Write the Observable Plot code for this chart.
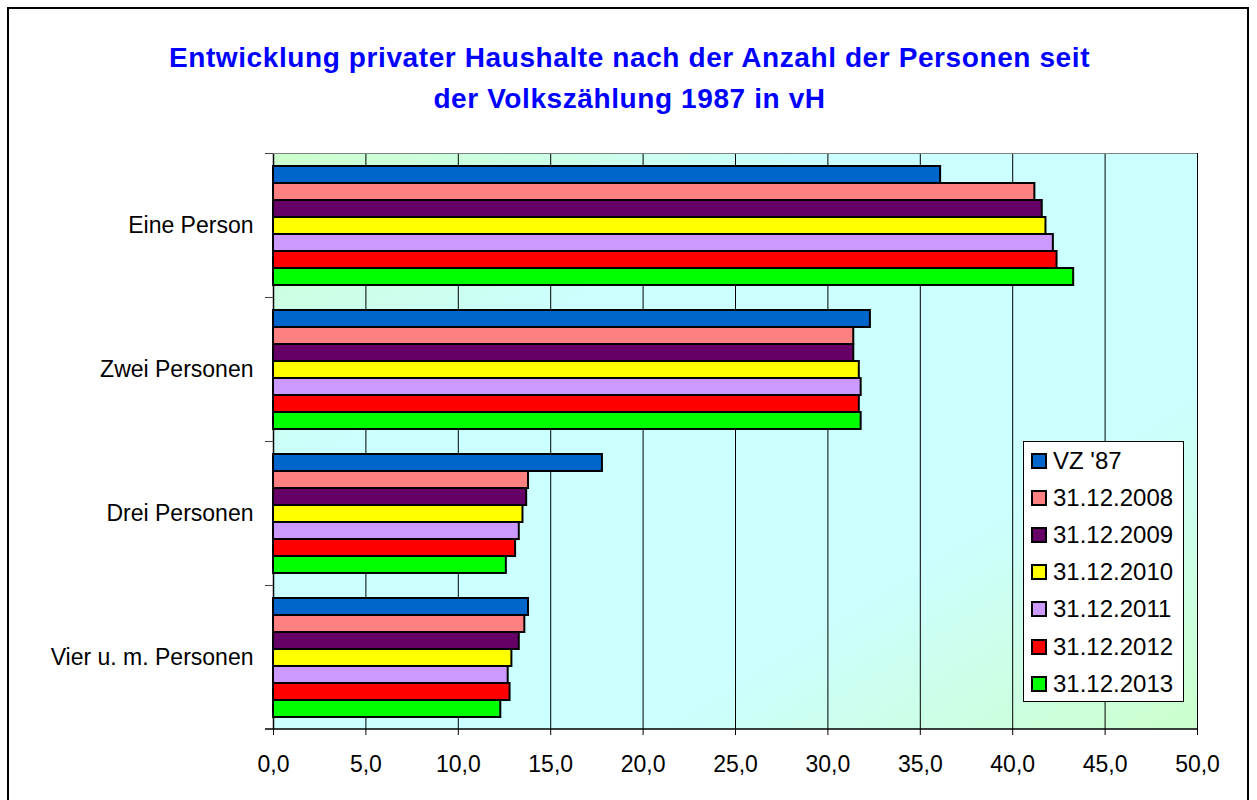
<!DOCTYPE html>
<html>
<head>
<meta charset="utf-8">
<script src="https://cdn.jsdelivr.net/npm/d3@7"></script>
<script src="https://cdn.jsdelivr.net/npm/@observablehq/plot@0.6"></script>
<style>
  html, body { margin: 0; padding: 0; background: #fff; }
  #wrap { position: relative; width: 1257px; height: 800px; overflow: hidden; font-family: "Liberation Sans", Arial, sans-serif; }
  #border { position: absolute; left: 7px; top: 7px; width: 1238px; height: 900px; border: 2px solid #000; pointer-events: none; }
  #title { box-sizing: border-box; height: 130px; padding-top: 37px; padding-left: 2px; text-align: center; font-weight: bold; font-size: 28px; letter-spacing: 0.6px; line-height: 41px; color: #0000FF; }
  #legend { position: absolute; left: 1023px; top: 441px; width: 159px; height: 259px; background: #fff; border: 1px solid #000; }
  .li { position: absolute; left: 7px; height: 30px; display: flex; align-items: center; font-size: 24px; color: #000; }
  .sw { width: 12px; height: 12px; border: 2px solid #000; margin-right: 6px; }
</style>
</head>
<body>
<div id="wrap">
  <div id="title">Entwicklung privater Haushalte nach der Anzahl der Personen seit<br>der Volkszählung 1987 in vH</div>
  <div id="chart"></div>
  <div id="legend"></div>
  <div id="border"></div>
</div>
<script>
const categories = ["Eine Person", "Zwei Personen", "Drei Personen", "Vier u. m. Personen"];
const series = ["VZ '87", "31.12.2008", "31.12.2009", "31.12.2010", "31.12.2011", "31.12.2012", "31.12.2013"];
const colors = ["#0066CC", "#FF8080", "#660066", "#FFFF00", "#CC99FF", "#FF0000", "#00FF00"];

const vz87  = [36.1, 32.3, 17.8, 13.8];
const s2008 = [41.2, 31.4, 13.8, 13.6];
const s2009 = [41.6, 31.4, 13.7, 13.3];
const s2010 = [41.8, 31.7, 13.5, 12.9];
const s2011 = [42.2, 31.8, 13.3, 12.7];
const s2012 = [42.4, 31.7, 13.1, 12.8];
const s2013 = [43.3, 31.8, 12.6, 12.3];
const valuesBySeries = [vz87, s2008, s2009, s2010, s2011, s2012, s2013];

const xTicks = [0, 5, 10, 15, 20, 25, 30, 35, 40, 45, 50];
const gridTicks = xTicks.filter(d => d > 0);
const fmt = d => d.toFixed(1).replace(".", ",");

const data = categories.flatMap((c, i) => series.map((s, j) => ({category: c, series: s, value: valuesBySeries[j][i]})));

const plot = Plot.plot({
  width: 1257,
  height: 670,
  marginTop: 23,
  marginBottom: 71,
  marginLeft: 273,
  marginRight: 60,
  style: {fontFamily: "'Liberation Sans', Arial, sans-serif", fontSize: "23px", color: "#000", background: "transparent"},
  x: {domain: [0, 50]},
  y: {domain: series, paddingInner: 0, paddingOuter: 0.735, axis: null},
  fy: {domain: categories, padding: 0},
  color: {domain: series, range: colors},
  marks: [
    Plot.gridX({ticks: gridTicks, stroke: "#000", strokeOpacity: 1, strokeWidth: 1}),
    Plot.ruleX([0], {stroke: "#000", strokeWidth: 1.5}),
    Plot.barX(data, {fy: "category", y: "series", x: "value", fill: "series", stroke: "#000", strokeWidth: 2}),
    Plot.axisX({ticks: xTicks, tickFormat: fmt, tickSize: 6, tickPadding: 20, fontSize: 23, label: null, stroke: "#000"}),
    Plot.axisFy({anchor: "left", tickSize: 0, tickPadding: 20, fontSize: 23, label: null})
  ]
});

document.getElementById("chart").appendChild(plot);

// background gradient + frame lines, positioned from the plot's own scales
const svg = d3.select(plot);
const xs = plot.scale("x");
const fys = plot.scale("fy");
const x0 = xs.apply(0), x1 = xs.apply(50);
const yTop = fys.apply(categories[0]);
const bw = fys.bandwidth;
const yBot = fys.apply(categories[categories.length - 1]) + bw;

const defs = svg.insert("defs", ":first-child");
const grad = defs.append("linearGradient").attr("id", "bgGrad").attr("x1", 0).attr("y1", 0).attr("x2", 1).attr("y2", 1);
grad.append("stop").attr("offset", 0).attr("stop-color", "#CCFFCC");
grad.append("stop").attr("offset", 0.3).attr("stop-color", "#CCFFFF");
grad.append("stop").attr("offset", 0.7).attr("stop-color", "#CCFFFF");
grad.append("stop").attr("offset", 1).attr("stop-color", "#CCFFCC");
svg.insert("rect", "defs + *").attr("x", x0).attr("y", yTop).attr("width", x1 - x0).attr("height", yBot - yTop).attr("fill", "url(#bgGrad)");

svg.append("line").attr("x1", x0).attr("x2", x1).attr("y1", yTop + 0.5).attr("y2", yTop + 0.5).attr("stroke", "#808080");
svg.append("line").attr("x1", x0 - 8).attr("x2", x1).attr("y1", yBot).attr("y2", yBot).attr("stroke", "#000").attr("stroke-width", 1.5);
categories.forEach(c => {
  const yb = fys.apply(c);
  svg.append("line").attr("x1", x0 - 8).attr("x2", x0).attr("y1", yb + 0.5).attr("y2", yb + 0.5).attr("stroke", "#404040");
});

// legend
const legend = document.getElementById("legend");
series.forEach((s, i) => {
  const item = document.createElement("div");
  item.className = "li";
  item.style.top = (4 + i * 37.1) + "px";
  const sw = document.createElement("div");
  sw.className = "sw";
  sw.style.background = colors[i];
  const tx = document.createElement("span");
  tx.textContent = s;
  item.appendChild(sw);
  item.appendChild(tx);
  legend.appendChild(item);
});
</script>
</body>
</html>
